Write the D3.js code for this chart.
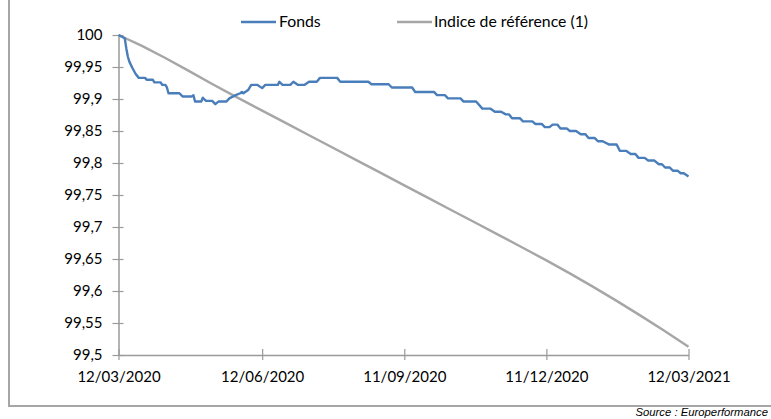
<!DOCTYPE html>
<html>
<head>
<meta charset="utf-8">
<script src="https://cdn.jsdelivr.net/npm/d3@7"></script>
<style>
  html, body { margin: 0; padding: 0; background: #fff; }
  svg { display: block; }
</style>
</head>
<body>
<svg id="chart" width="771" height="419"></svg>
<script>
// ---- Data ----
const fondsDates = [
  "2020-03-12","2020-03-16","2020-03-17","2020-03-18","2020-03-19","2020-03-21","2020-03-23","2020-03-25",
  "2020-03-29","2020-03-30","2020-04-03","2020-04-04","2020-04-08","2020-04-09","2020-04-11","2020-04-12",
  "2020-04-13","2020-04-20","2020-04-22","2020-04-28","2020-04-29","2020-04-30","2020-05-04","2020-05-05",
  "2020-05-07","2020-05-11","2020-05-13","2020-05-15","2020-05-20","2020-05-22","2020-05-26","2020-05-29",
  "2020-05-30","2020-05-31","2020-06-03","2020-06-05","2020-06-09","2020-06-12","2020-06-14","2020-06-22",
  "2020-06-23","2020-06-25","2020-06-30","2020-07-02","2020-07-05","2020-07-09","2020-07-12","2020-07-17",
  "2020-07-19","2020-07-30","2020-08-01","2020-08-19","2020-08-21","2020-09-01","2020-09-03","2020-09-16",
  "2020-09-18","2020-09-30","2020-10-02","2020-10-07","2020-10-09","2020-10-17","2020-10-19","2020-10-27",
  "2020-10-31","2020-11-05","2020-11-08","2020-11-12","2020-11-15","2020-11-17","2020-11-19","2020-11-24",
  "2020-11-26","2020-12-02","2020-12-04","2020-12-08","2020-12-10","2020-12-13","2020-12-15","2020-12-18",
  "2020-12-20","2020-12-24","2020-12-26","2020-12-30","2021-01-02","2021-01-05","2021-01-07","2021-01-11",
  "2021-01-13","2021-01-16","2021-01-20","2021-01-25","2021-01-27","2021-01-31","2021-02-03","2021-02-06",
  "2021-02-08","2021-02-12","2021-02-14","2021-02-18","2021-02-21","2021-02-23","2021-02-25","2021-02-28",
  "2021-03-02","2021-03-05","2021-03-07","2021-03-09","2021-03-12"
];
const fondsValues = [
  100.000,99.995,99.979,99.966,99.958,99.948,99.939,99.933,
  99.933,99.930,99.930,99.926,99.926,99.922,99.922,99.918,
  99.909,99.909,99.904,99.904,99.906,99.896,99.896,99.902,
  99.897,99.897,99.892,99.896,99.896,99.901,99.906,99.909,
  99.911,99.909,99.914,99.922,99.922,99.917,99.922,99.922,
  99.927,99.922,99.922,99.927,99.922,99.922,99.927,99.927,
  99.933,99.933,99.927,99.927,99.923,99.923,99.918,99.918,
  99.911,99.911,99.906,99.906,99.901,99.901,99.896,99.896,
  99.885,99.885,99.880,99.880,99.876,99.876,99.870,99.870,
  99.865,99.865,99.861,99.861,99.856,99.856,99.860,99.860,
  99.854,99.854,99.850,99.850,99.845,99.845,99.839,99.839,
  99.834,99.834,99.829,99.829,99.819,99.819,99.814,99.814,
  99.808,99.808,99.804,99.804,99.798,99.798,99.793,99.793,
  99.788,99.788,99.784,99.784,99.779
];
const indiceDates = [
  "2020-03-12","2020-03-27","2020-04-11","2020-04-26","2020-05-11","2020-05-26","2020-06-12","2020-06-27",
  "2020-07-12","2020-07-27","2020-08-11","2020-08-26","2020-09-11","2020-09-26","2020-10-11","2020-10-26",
  "2020-11-10","2020-11-25","2020-12-11","2020-12-26","2021-01-10","2021-01-25","2021-02-09","2021-02-24",
  "2021-03-12"
];
const indiceValues = [
  100.000,99.9830,99.9640,99.9440,99.9235,99.9037,99.8819,99.8627,
  99.8434,99.8242,99.8049,99.7857,99.7651,99.7459,99.7266,99.7074,
  99.6881,99.6688,99.6478,99.6275,99.6065,99.5846,99.5619,99.5385,
  99.5130
];
const seriesNames = ["Fonds", "Indice de référence (1)"];
const yTickValues = [99.5, 99.55, 99.6, 99.65, 99.7, 99.75, 99.8, 99.85, 99.9, 99.95, 100];
const yTickLabels = ["99,5","99,55","99,6","99,65","99,7","99,75","99,8","99,85","99,9","99,95","100"];
const xTickDates = ["2020-03-12","2020-06-12","2020-09-11","2020-12-11","2021-03-12"];
const xTickLabels = ["12/03/2020","12/06/2020","11/09/2020","11/12/2020","12/03/2021"];
const sourceText = "Source : Europerformance";

// ---- Drawing ----
const parse = d3.timeParse("%Y-%m-%d");
const svg = d3.select("#chart");
const FONT = "Lato, 'Open Sans', sans-serif";
const BLUE = "#4a7ebb";
const GREY = "#a6a6a6";
const AXIS = "#9a9a9a";

const x = d3.scaleTime()
  .domain([parse("2020-03-12"), parse("2021-03-12")])
  .range([118.5, 688.5]);
const y = d3.scaleLinear().domain([99.5, 100]).range([355, 35]);

// frame (left and bottom edges)
svg.append("line").attr("x1", 9).attr("x2", 9).attr("y1", 0).attr("y2", 406)
  .attr("stroke", GREY).attr("stroke-width", 2);
svg.append("line").attr("x1", 8).attr("x2", 771).attr("y1", 406).attr("y2", 406)
  .attr("stroke", GREY).attr("stroke-width", 2);

// y axis
const yAxis = d3.axisLeft(y)
  .tickValues(yTickValues)
  .tickFormat((d, i) => yTickLabels[i])
  .tickSize(6).tickSizeOuter(0).tickPadding(10);
const gy = svg.append("g").attr("transform", "translate(118.5,0)").call(yAxis);
gy.select(".domain").attr("stroke", AXIS).attr("stroke-width", 1.5);
gy.selectAll(".tick line").attr("x1", 5).attr("x2", -6).attr("stroke", AXIS).attr("stroke-width", 1.2);
gy.selectAll(".tick text").attr("font-family", FONT).attr("font-size", 15).attr("fill", "#000");

// x axis
const xAxis = d3.axisBottom(x)
  .tickValues(xTickDates.map(parse))
  .tickFormat((d, i) => xTickLabels[i])
  .tickSize(6).tickSizeOuter(0).tickPadding(10);
const gx = svg.append("g").attr("transform", "translate(0,355)").call(xAxis);
gx.select(".domain").attr("stroke", AXIS).attr("stroke-width", 1.5);
gx.selectAll(".tick line").attr("y1", -6).attr("y2", 5).attr("stroke", AXIS).attr("stroke-width", 1.2);
gx.selectAll(".tick text").attr("font-family", FONT).attr("font-size", 15).attr("fill", "#000");

// lines
const line = d3.line().x(d => x(d[0])).y(d => y(d[1]));
const indiceData = indiceDates.map((d, i) => [parse(d), indiceValues[i]]);
const fondsData = fondsDates.map((d, i) => [parse(d), fondsValues[i]]);
svg.append("path").datum(indiceData).attr("d", line)
  .attr("fill", "none").attr("stroke", GREY).attr("stroke-width", 2.4).attr("stroke-linejoin", "round");
svg.append("path").datum(fondsData).attr("d", line)
  .attr("fill", "none").attr("stroke", BLUE).attr("stroke-width", 2.4).attr("stroke-linejoin", "round");

// legend
const legend = [
  {name: seriesNames[0], color: BLUE, x0: 241, x1: 276, tx: 279},
  {name: seriesNames[1], color: GREY, x0: 397, x1: 432, tx: 434}
];
legend.forEach(l => {
  svg.append("line").attr("x1", l.x0).attr("x2", l.x1).attr("y1", 22).attr("y2", 22)
    .attr("stroke", l.color).attr("stroke-width", 2.4);
  svg.append("text").attr("x", l.tx).attr("y", 27).attr("font-family", FONT)
    .attr("font-size", 15.8).attr("fill", "#000").text(l.name);
});

// source
svg.append("text").attr("x", 768).attr("y", 416).attr("text-anchor", "end")
  .attr("font-family", "'Liberation Sans', Arial, sans-serif").attr("font-style", "italic")
  .attr("font-size", 11.3).attr("fill", "#000").text(sourceText);
</script>
</body>
</html>
